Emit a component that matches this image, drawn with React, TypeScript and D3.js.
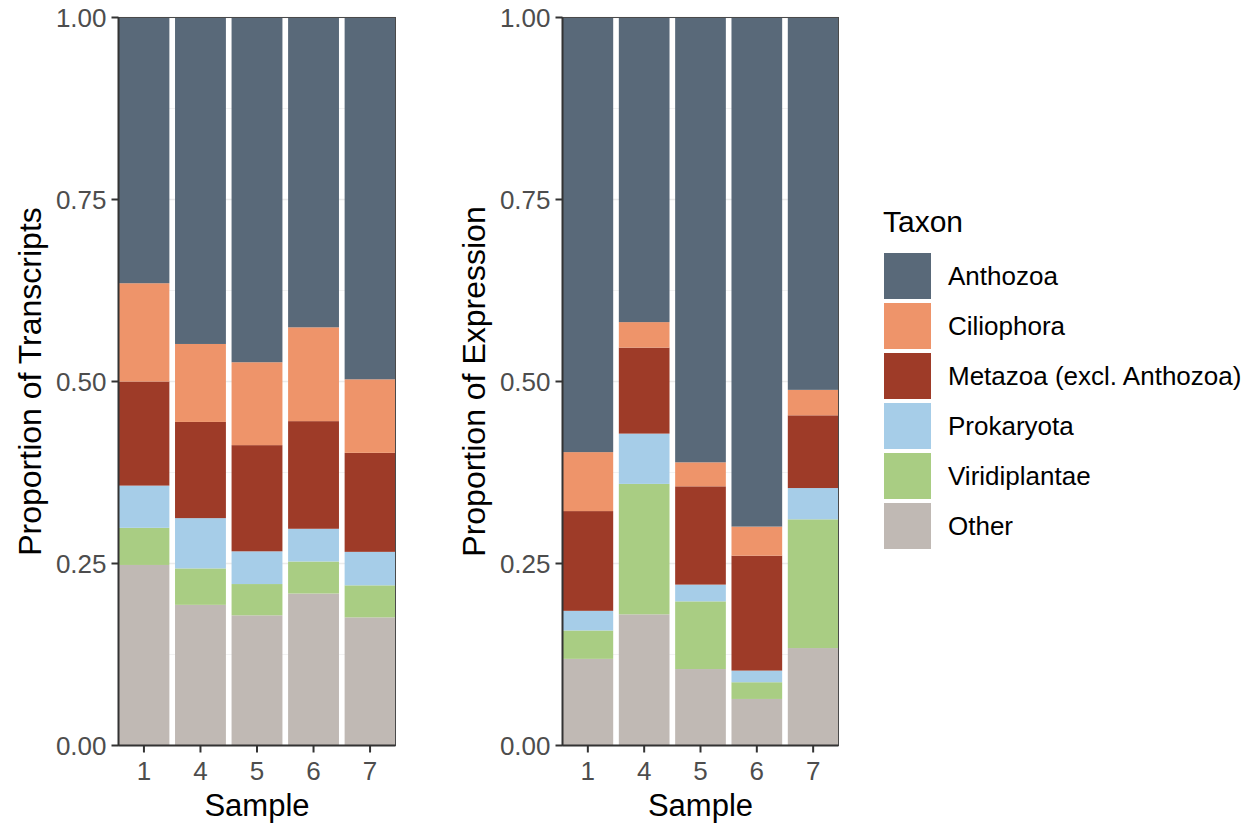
import * as d3 from 'd3';

const samples = ['1', '4', '5', '6', '7'];
const taxa = ['Anthozoa', 'Ciliophora', 'Metazoa (excl. Anthozoa)', 'Prokaryota', 'Viridiplantae', 'Other'];
const taxonColors = ['#596979', '#ee946a', '#9e3b28', '#a6cde8', '#a9cd83', '#c0b9b4'];
const yTicks = [0, 0.25, 0.5, 0.75, 1];

// proportion of transcripts
const txAnthozoa = [0.365, 0.448, 0.474, 0.426, 0.497];
const txCiliophora = [0.135, 0.107, 0.114, 0.129, 0.101];
const txMetazoa = [0.143, 0.132, 0.146, 0.148, 0.136];
const txProkaryota = [0.058, 0.069, 0.045, 0.045, 0.046];
const txViridiplantae = [0.051, 0.05, 0.043, 0.044, 0.044];
const txOther = [0.248, 0.193, 0.179, 0.209, 0.176];

// proportion of expression
const exAnthozoa = [0.597, 0.418, 0.611, 0.7, 0.512];
const exCiliophora = [0.081, 0.035, 0.033, 0.04, 0.035];
const exMetazoa = [0.137, 0.118, 0.135, 0.158, 0.1];
const exProkaryota = [0.027, 0.069, 0.023, 0.016, 0.043];
const exViridiplantae = [0.039, 0.179, 0.093, 0.023, 0.177];
const exOther = [0.119, 0.18, 0.105, 0.064, 0.134];

const font = 'Liberation Sans, Arial, Helvetica, sans-serif';

const buildRows = (series: number[][]) =>
  samples.map((s, i) => {
    const row: any = { sample: s };
    taxa.forEach((t, k) => (row[t] = series[k][i]));
    return row;
  });

const transcriptRows = buildRows([txAnthozoa, txCiliophora, txMetazoa, txProkaryota, txViridiplantae, txOther]);
const expressionRows = buildRows([exAnthozoa, exCiliophora, exMetazoa, exProkaryota, exViridiplantae, exOther]);

const color = d3.scaleOrdinal<string, string>().domain(taxa).range(taxonColors);

const Panel = ({ rows, x0, x1, title }: { rows: any[]; x0: number; x1: number; title: string }) => {
  const top = 17.5;
  const bottom = 745.5;
  const x = d3.scaleBand().domain(samples).range([x0, x1]).paddingInner(0.1).paddingOuter(0);
  const y = d3.scaleLinear().domain([0, 1]).range([bottom, top]);
  // bottom of the stack is "Other", top is "Anthozoa"
  const stack = d3.stack<any>().keys([...taxa].reverse()).offset(d3.stackOffsetExpand);
  const layers = stack(rows);
  const minor = d3.range(0.125, 1, 0.25);
  return (
    <g>
      {minor.map((v) => (
        <line key={'mn' + v} x1={x0} x2={x1} y1={y(v)} y2={y(v)} stroke="#f2f2f2" strokeWidth={1} />
      ))}
      {yTicks.map((v) => (
        <line key={'mj' + v} x1={x0} x2={x1} y1={y(v)} y2={y(v)} stroke="#ebebeb" strokeWidth={1.5} />
      ))}
      {layers.map((layer) => (
        <g key={layer.key} fill={color(layer.key)}>
          {layer.map((d) => (
            <rect
              key={d.data.sample}
              x={x(d.data.sample)}
              y={y(d[1])}
              width={x.bandwidth()}
              height={y(d[0]) - y(d[1])}
            />
          ))}
        </g>
      ))}
      <rect x={x0} y={top} width={x1 - x0} height={bottom - top} fill="none" stroke="#4a4a4a" strokeWidth={1} />
      <line x1={x0} x2={x0} y1={top} y2={bottom} stroke="#333" strokeWidth={2} />
      <line x1={x0} x2={x1} y1={bottom} y2={bottom} stroke="#333" strokeWidth={2} />
      {yTicks.map((v) => (
        <g key={'yt' + v}>
          <line x1={x0 - 7} x2={x0} y1={y(v)} y2={y(v)} stroke="#333" strokeWidth={2} />
          <text
            x={x0 - 12}
            y={y(v)}
            textAnchor="end"
            dominantBaseline="central"
            fontSize={26}
            fill="#4d4d4d"
            fontFamily={font}
          >
            {v.toFixed(2)}
          </text>
        </g>
      ))}
      {samples.map((s) => {
        const cx = (x(s) as number) + x.bandwidth() / 2;
        return (
          <g key={'xt' + s}>
            <line x1={cx} x2={cx} y1={bottom} y2={bottom + 7} stroke="#333" strokeWidth={2} />
            <text x={cx} y={780} textAnchor="middle" fontSize={26} fill="#4d4d4d" fontFamily={font}>
              {s}
            </text>
          </g>
        );
      })}
      <text x={(x0 + x1) / 2} y={816} textAnchor="middle" fontSize={31} fill="#000" fontFamily={font}>
        Sample
      </text>
      <text
        transform={`translate(${x0 - 89},${(top + bottom) / 2}) rotate(-90)`}
        textAnchor="middle"
        dominantBaseline="central"
        fontSize={32}
        fill="#000"
        fontFamily={font}
      >
        {title}
      </text>
    </g>
  );
};

const Legend = () => {
  const lx = 884;
  const ly = 253;
  const step = 50;
  return (
    <g fontFamily={font}>
      <text x={lx - 1} y={232} fontSize={30} fill="#000">
        Taxon
      </text>
      {taxa.map((t, i) => (
        <g key={t}>
          <rect x={lx} y={ly + i * step} width={47} height={46} fill={color(t)} />
          <text x={948} y={ly + i * step + 23} dominantBaseline="central" fontSize={26} fill="#000">
            {t}
          </text>
        </g>
      ))}
    </g>
  );
};

export default function App() {
  return (
    <svg
      width={1254}
      height={825}
      style={{ position: 'absolute', left: 0, top: 0, background: '#fff' }}
    >
      <rect width={1254} height={825} fill="#fff" />
      <Panel rows={transcriptRows} x0={118.5} x1={395.5} title="Proportion of Transcripts" />
      <Panel rows={expressionRows} x0={562.5} x1={838.5} title="Proportion of Expression" />
      <Legend />
    </svg>
  );
}
